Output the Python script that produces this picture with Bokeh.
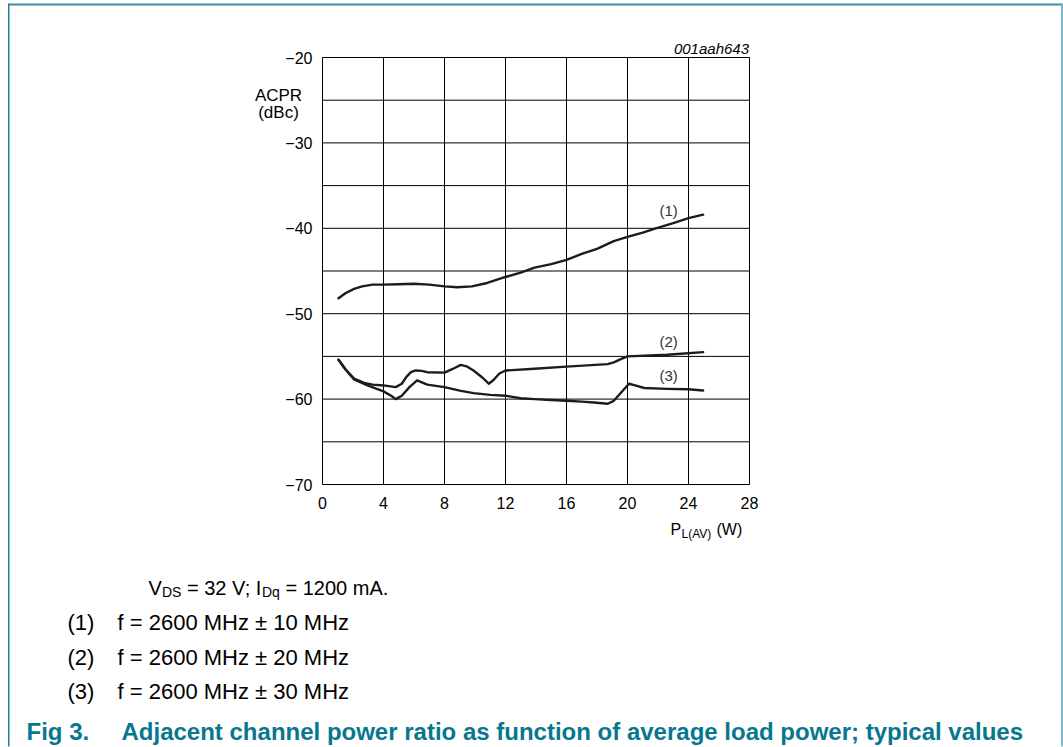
from bokeh.plotting import figure
from bokeh.models import Range1d, FixedTicker, Label, BoxAnnotation, LinearAxis
from bokeh.embed import file_html
from bokeh.resources import INLINE

# ---- data ----
x_ticks = [0, 4, 8, 12, 16, 20, 24, 28]
y_ticks = [-70, -60, -50, -40, -30, -20]
y_grid = [-70, -65, -60, -55, -50, -45, -40, -35, -30, -25, -20]
y_tick_labels = ["\u221270", "\u221260", "\u221250", "\u221240", "\u221230", "\u221220"]

# (1) f = 2600 MHz +/- 10 MHz
x1 = [1.05, 1.5, 2.07, 2.6, 3.28, 4.0, 5.0, 6.0, 7.0, 8.0, 8.85, 9.8, 10.8, 12.0,
      13.0, 13.9, 15.0, 16.0, 17.0, 18.0, 19.1, 20.0, 21.0, 21.75, 23.0, 24.0, 24.96]
y1 = [-48.2, -47.6, -47.1, -46.8, -46.6, -46.6, -46.55, -46.5, -46.6, -46.8, -46.9, -46.8,
      -46.4, -45.7, -45.2, -44.6, -44.2, -43.7, -43.0, -42.4, -41.5, -41.0, -40.5, -40.06,
      -39.4, -38.8, -38.4]

# (2) f = 2600 MHz +/- 20 MHz
x2 = [1.05, 1.5, 2.07, 2.73, 3.3, 4.0, 4.8, 5.2, 5.5, 5.8, 6.1, 6.5, 6.87, 8.0, 8.5, 9.07,
      9.5, 9.9, 10.5, 10.9, 11.2, 11.6, 12.0, 13.9, 16.0, 18.7, 19.1, 19.6, 20.0, 22.6, 24.96]
y2 = [-55.4, -56.5, -57.6, -58.1, -58.3, -58.4, -58.6, -58.2, -57.4, -56.85, -56.65, -56.7,
      -56.85, -56.9, -56.5, -56.0, -56.2, -56.65, -57.5, -58.2, -57.8, -57.0, -56.65, -56.45,
      -56.2, -55.9, -55.7, -55.3, -55.0, -54.8, -54.5]

# (3) f = 2600 MHz +/- 30 MHz
x3 = [1.05, 1.5, 2.07, 2.95, 4.0, 4.5, 4.8, 5.2, 5.7, 6.2, 6.87, 8.0, 9.0, 9.9, 11.0, 12.0,
      13.0, 13.9, 15.0, 16.0, 17.0, 17.8, 18.7, 19.1, 19.6, 20.1, 20.5, 21.1, 22.6, 24.0, 24.96]
y3 = [-55.4, -56.5, -57.7, -58.4, -59.1, -59.6, -60.0, -59.6, -58.6, -57.8, -58.3, -58.6,
      -59.0, -59.3, -59.5, -59.6, -59.9, -60.0, -60.1, -60.2, -60.3, -60.4, -60.55, -60.2,
      -59.2, -58.2, -58.4, -58.7, -58.8, -58.85, -59.0]

curve_labels = ["(1)", "(2)", "(3)"]
curve_label_x = [22.7, 22.7, 22.7]
curve_label_y = [-37.9, -53.3, -57.2]

notes = ["f = 2600 MHz \u00b1 10 MHz", "f = 2600 MHz \u00b1 20 MHz", "f = 2600 MHz \u00b1 30 MHz"]
caption_num = "Fig 3."
caption = "Adjacent channel power ratio as function of average load power; typical values"

# ---- layout (pixels) ----
FONT = "Liberation Sans"
TEAL = "#07778f"
W, H = 1063, 747
BOX_L, BOX_R, BOX_T, BOX_B = 322, 749, 57, 484   # chart box on the page

# ranges chosen so that the data box lands at the chart box of the picture
xppu = (BOX_R - BOX_L) / (x_ticks[-1] - x_ticks[0])
yppu = (BOX_B - BOX_T) / (y_ticks[-1] - y_ticks[0])
x_lo = x_ticks[0] - BOX_L / xppu
x_hi = x_lo + W / xppu
y_hi = y_ticks[-1] + BOX_T / yppu
y_lo = y_hi - H / yppu

p = figure(width=W, height=H, x_range=Range1d(x_lo, x_hi), y_range=Range1d(y_lo, y_hi),
           output_backend="svg", toolbar_location=None, min_border=0,
           x_axis_location=None, y_axis_location=None,
           background_fill_color="white", border_fill_color="white")
p.outline_line_color = None
p.xgrid.grid_line_color = None
p.ygrid.grid_line_color = None

# grid / box
nx, ny = len(x_ticks), len(y_grid)
p.segment(x0=x_ticks, y0=[y_ticks[0]] * nx, x1=x_ticks, y1=[y_ticks[-1]] * nx,
          line_color="black", line_width=1)
p.segment(x0=[x_ticks[0]] * ny, y0=y_grid, x1=[x_ticks[-1]] * ny, y1=y_grid,
          line_color="black", line_width=1)

# axes at fixed locations
xax = LinearAxis(fixed_location=y_ticks[0], ticker=FixedTicker(ticks=x_ticks),
                 bounds=(x_ticks[0], x_ticks[-1]))
yax = LinearAxis(fixed_location=x_ticks[0], ticker=FixedTicker(ticks=y_ticks),
                 bounds=(y_ticks[0], y_ticks[-1]))
yax.major_label_overrides = {t: s for t, s in zip(y_ticks, y_tick_labels)}
for ax in (xax, yax):
    ax.axis_line_color = None
    ax.major_tick_out = 0
    ax.major_tick_in = 0
    ax.minor_tick_out = 0
    ax.minor_tick_in = 0
    ax.major_label_text_font = FONT
    ax.major_label_text_font_size = "16px"
    ax.major_label_text_color = "black"
xax.major_label_standoff = 12
yax.major_label_standoff = 10
p.add_layout(xax, "below")
p.add_layout(yax, "left")

for xs, ys in ((x1, y1), (x2, y2), (x3, y3)):
    p.line(xs, ys, line_color="#1c1c1c", line_width=2.4, line_join="round", line_cap="round")

for t, lx, ly in zip(curve_labels, curve_label_x, curve_label_y):
    p.add_layout(Label(x=lx, y=ly, text=t, text_font=FONT, text_font_size="15px",
                       text_color="#333333", text_align="center", text_baseline="middle"))


def lab(text, px, py, size, **kw):
    opts = dict(text_font=FONT, text_font_size=f"{size}px", text_baseline="alphabetic",
                text_color="black")
    opts.update(kw)
    p.add_layout(Label(x=px, y=H - py, x_units="screen", y_units="screen",
                       text=text, **opts))


# texts around the chart
lab("001aah643", 748.5, 48, 15, text_align="right", text_font_style="italic")
lab("ACPR", 278, 95, 17, text_align="center")
lab("(dBc)", 278, 112, 17, text_align="center")
lab("P", 670, 529, 16)
lab("L(AV)", 681, 533, 12)
lab("(W)", 716, 529, 16)

# notes below
lab("V", 148, 587, 20)
lab("DS", 161.5, 591, 14)
lab("= 32 V; I", 186.5, 587, 20)
lab("Dq", 261.5, 591, 14)
lab("= 1200 mA.", 285, 587, 20)
for i, (t, by) in enumerate(zip(notes, [621.7, 656.7, 690.5])):
    lab(f"({i + 1})", 67, by, 22)
    lab(t, 117, by, 22)

lab(caption_num, 26, 731, 24, text_font_style="bold", text_color=TEAL)
lab(caption, 121, 731, 24, text_font_style="bold", text_color=TEAL)


# page frame lines
def frame_line(x0, x1_, y0, y1_, color):
    p.add_layout(BoxAnnotation(left=x0, right=x1_, top=H - y0, bottom=H - y1_,
                               left_units="screen", right_units="screen",
                               top_units="screen", bottom_units="screen",
                               fill_color=color, fill_alpha=1, line_alpha=0))


frame_line(8, 1062, 3, 5, "#3a90a6")
frame_line(7.5, 9, 3, 746, "#1f8199")
frame_line(1060.5, 1062.5, 3, 746, "#7cb9c7")

open("out.html", "w").write(file_html(p, INLINE))
